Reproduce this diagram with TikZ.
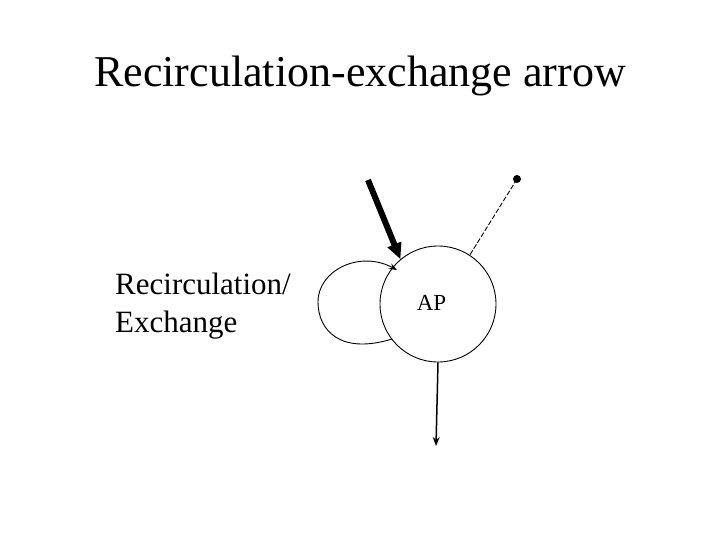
\documentclass[tikz,border=0pt]{standalone}
\usepackage{fontspec}
\setmainfont{Liberation Serif}
\usetikzlibrary{arrows.meta}
\begin{document}
\begin{tikzpicture}[x=1pt,y=-1pt,
  thin line/.style={line width=0.9pt},
  head/.style={-{Stealth[length=8pt,width=6pt]}}]
\useasboundingbox (0,0) rectangle (720,540);
\node (title) at (360,76) {\fontsize{44}{50}\selectfont Recirculation-exchange arrow};
\node[anchor=west,align=left,inner sep=0pt,font=\fontsize{31}{38}\selectfont] (label) at (115,306.5) {Recirculation/\\Exchange};
\node[circle,draw,thin line,minimum size=116pt,inner sep=0pt] (ap) at (438,304) {};
\node[font=\fontsize{23}{27}\selectfont] (aplabel) at (431.5,303) {AP};
% loop
\coordinate (ls) at (392,339);
\coordinate (le) at (397,270);
\draw[thin line,head] (ls) .. controls (340,355) and (318,330) .. (318,302)
  .. controls (318,270) and (360,250) .. (le);
% thick arrow
\coordinate (ts) at (368,180);
\draw[line width=6pt,-{Triangle[length=16pt,width=14pt]}] (ts) -- (ap.130);
% dashed line with dot
\coordinate (dot) at (517,179);
\fill (dot) circle (4pt);
\draw[thin line,dashed,dash pattern=on 5pt off 2pt] (dot) -- (ap.57);
% down arrow
\coordinate (down) at (436,446);
\draw[line width=1.5pt,-{Stealth[length=9pt,width=7pt]}] (ap.south) -- (down);
\end{tikzpicture}
\end{document}
